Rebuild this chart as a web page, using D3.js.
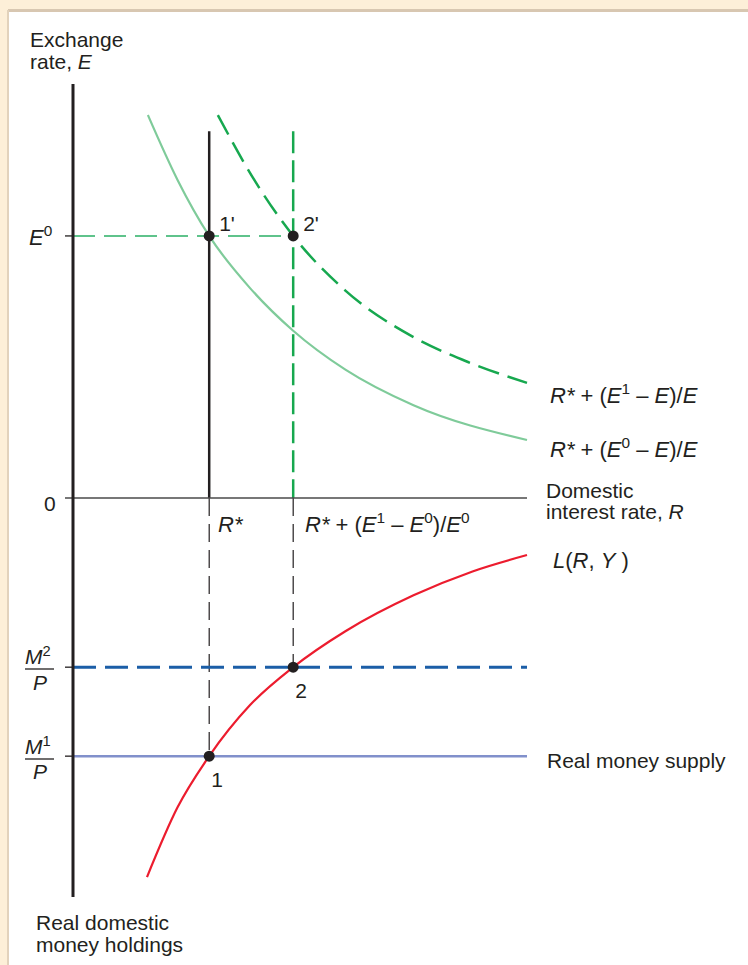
<!DOCTYPE html>
<html>
<head>
<meta charset="utf-8">
<script src="https://cdn.jsdelivr.net/npm/d3@7"></script>
<style>
  html, body { margin: 0; padding: 0; background: #fdefd8; }
  svg { display: block; font-family: "Liberation Sans", Arial, Helvetica, sans-serif; }
  text { fill: #231f20; }
</style>
</head>
<body>
<svg id="chart"></svg>
<script>
// Levels (R and E / M on 0..100 scales)
const rStar = 30;        // R*
const rNew = 48.5;       // R* + (E1 - E0)/E0
const e0 = 63.3;         // E0
const eTop = 88.6;       // top of the vertical R lines
const m1 = 64.7;         // M1/P
const m2 = 42.4;         // M2/P

// Expected return curves [R, E]
const returnE0 = [[16.5, 92.5], [23, 76.9], [30, 63.3], [39, 50.7], [48.5, 40.4],
  [60, 31.0], [75, 22.4], [100, 14.0]];
const returnE1 = [[31.9, 92.5], [40, 76.7], [48.5, 63.3], [60, 50.1], [75, 38.85],
  [87, 32.85], [100, 27.8]];

// Money demand L(R, Y) [R, M]
const demand = [[16.3, 95.0], [23, 77.6], [30, 64.7], [39, 51.9], [48.5, 42.4],
  [60, 33.4], [75, 24.4], [88, 18.4], [100, 14.3]];

// Equilibrium points
const upperPoints = [{r: rStar, e: e0, name: "1'"}, {r: rNew, e: e0, name: "2'"}];
const lowerPoints = [{r: rStar, m: m1, name: "1"}, {r: rNew, m: m2, name: "2"}];

const width = 748;
const height = 965;
const ink = "#231f20";

const svg = d3.select("#chart")
    .attr("width", width)
    .attr("height", height);

// Cream frame and white panel
svg.append("rect").attr("width", width).attr("height", height).attr("fill", "#fdefd8");
svg.append("rect").attr("x", 8).attr("y", 11).attr("width", width).attr("height", height)
    .attr("fill", "#fff");
svg.append("line").attr("x1", 8).attr("x2", width).attr("y1", 10.5).attr("y2", 10.5)
    .attr("stroke", "#d8c7b1").attr("stroke-width", 3);
svg.append("line").attr("x1", 8).attr("x2", 8).attr("y1", 10).attr("y2", height)
    .attr("stroke", "#e2d2bc").attr("stroke-width", 2);

// Scales
const x = d3.scaleLinear().domain([0, 100]).range([73, 527]);
const yE = d3.scaleLinear().domain([0, 100]).range([498, 84]);
const yM = d3.scaleLinear().domain([0, 100]).range([498, 897]);

const lineE = d3.line().x(d => x(d[0])).y(d => yE(d[1])).curve(d3.curveMonotoneX);
const lineM = d3.line().x(d => x(d[0])).y(d => yM(d[1])).curve(d3.curveMonotoneX);

// Upper panel
svg.append("path").attr("d", lineE(returnE0))
    .attr("fill", "none").attr("stroke", "#7fcb9a").attr("stroke-width", 2.2);

svg.append("line")
    .attr("x1", x(rStar)).attr("x2", x(rStar)).attr("y1", yE(eTop)).attr("y2", yE(0))
    .attr("stroke", ink).attr("stroke-width", 2.5);

svg.append("line")
    .attr("x1", x(rNew)).attr("x2", x(rNew)).attr("y1", yE(eTop)).attr("y2", yE(0))
    .attr("stroke", "#17a84f").attr("stroke-width", 2.5).attr("stroke-dasharray", "22,7");

svg.append("path").attr("d", lineE(returnE1))
    .attr("fill", "none").attr("stroke", "#17a84f").attr("stroke-width", 2.5)
    .attr("stroke-dasharray", "22,9");

svg.append("line")
    .attr("x1", x(0)).attr("x2", x(rNew)).attr("y1", yE(e0)).attr("y2", yE(e0))
    .attr("stroke", "#2bb065").attr("stroke-width", 1.6).attr("stroke-dasharray", "22,9");

// Lower panel
svg.append("line")
    .attr("x1", x(rStar)).attr("x2", x(rStar)).attr("y1", yM(0)).attr("y2", yM(m1))
    .attr("stroke", ink).attr("stroke-width", 1.2).attr("stroke-dasharray", "18,8");
svg.append("line")
    .attr("x1", x(rNew)).attr("x2", x(rNew)).attr("y1", yM(0)).attr("y2", yM(m2))
    .attr("stroke", ink).attr("stroke-width", 1.2).attr("stroke-dasharray", "18,8");

svg.append("line")
    .attr("x1", x(0)).attr("x2", x(100)).attr("y1", yM(m1)).attr("y2", yM(m1))
    .attr("stroke", "#8190cb").attr("stroke-width", 2.5);
svg.append("line")
    .attr("x1", x(0)).attr("x2", x(100)).attr("y1", yM(m2)).attr("y2", yM(m2))
    .attr("stroke", "#1b5ea7").attr("stroke-width", 3).attr("stroke-dasharray", "23,9");

svg.append("path").attr("d", lineM(demand))
    .attr("fill", "none").attr("stroke", "#ec1c2e").attr("stroke-width", 2.2);

// Axes
svg.append("line")
    .attr("x1", x(0) - 8).attr("x2", x(100)).attr("y1", yE(0)).attr("y2", yE(0))
    .attr("stroke", "#4a4a4a").attr("stroke-width", 1.6);
svg.append("line")
    .attr("x1", x(0)).attr("x2", x(0)).attr("y1", yE(100)).attr("y2", yM(100))
    .attr("stroke", ink).attr("stroke-width", 3);

// Ticks on vertical axis
const ticks = [yE(e0), yM(m2), yM(m1)];
svg.selectAll(".tick").data(ticks).enter().append("line")
    .attr("class", "tick")
    .attr("x1", x(0) - 8).attr("x2", x(0)).attr("y1", d => d).attr("y2", d => d)
    .attr("stroke", ink).attr("stroke-width", 1.3);

// Dots
svg.selectAll(".up").data(upperPoints).enter().append("circle")
    .attr("class", "up")
    .attr("cx", d => x(d.r)).attr("cy", d => yE(d.e)).attr("r", 5.5).attr("fill", ink);
svg.selectAll(".low").data(lowerPoints).enter().append("circle")
    .attr("class", "low")
    .attr("cx", d => x(d.r)).attr("cy", d => yM(d.m)).attr("r", 5.5).attr("fill", ink);

svg.selectAll(".uplabel").data(upperPoints).enter().append("text")
    .attr("class", "uplabel")
    .attr("x", d => x(d.r) + 10).attr("y", d => yE(d.e) - 5)
    .attr("font-size", 21).text(d => d.name);
svg.selectAll(".lowlabel").data(lowerPoints).enter().append("text")
    .attr("class", "lowlabel")
    .attr("x", d => x(d.r) + 2).attr("y", d => yM(d.m) + 31)
    .attr("font-size", 21).text(d => d.name);

// Text helper: parts = [[text, flags]] where flags may contain i (italic) and s (superscript)
function label(px, py, parts, size) {
  size = size || 21;
  const t = svg.append("text").attr("x", px).attr("y", py).attr("font-size", size);
  let raised = 0;
  parts.forEach(p => {
    const flags = p[1] || "";
    const s = t.append("tspan").text(p[0]);
    if (flags.includes("i")) s.attr("font-style", "italic");
    if (flags.includes("s")) {
      const up = size * 0.4;
      s.attr("font-size", size * 0.7).attr("dy", -up - raised);
      raised = up;
    } else if (raised) {
      s.attr("dy", raised);
      raised = 0;
    }
  });
  return t;
}

label(30, 47, [["Exchange"]]);
label(30, 69, [["rate, "], ["E", "i"]]);
label(29, 245, [["E", "i"], ["0", "s"]], 22);
label(44, 511, [["0"]]);

label(218, 532, [["R", "i"], ["*", "i"]], 22);
label(305, 532, [["R", "i"], ["*", "i"], [" + ("], ["E", "i"], ["1", "s"], [" – "], ["E", "i"], ["0", "s"], [")/"], ["E", "i"], ["0", "s"]], 22);

label(546, 498, [["Domestic"]]);
label(546, 519, [["interest rate, "], ["R", "i"]]);

label(550, 403, [["R", "i"], ["*", "i"], [" + ("], ["E", "i"], ["1", "s"], [" – "], ["E", "i"], [")/"], ["E", "i"]], 22);
label(550, 457, [["R", "i"], ["*", "i"], [" + ("], ["E", "i"], ["0", "s"], [" – "], ["E", "i"], [")/"], ["E", "i"]], 22);

label(553, 568, [["L", "i"], ["("], ["R", "i"], [", "], ["Y", "i"], [" )"]], 22);
label(547, 768, [["Real money supply"]]);

label(36, 930, [["Real domestic"]]);
label(36, 952, [["money holdings"]]);

// Fractions M/P
label(25, 664, [["M", "i"], ["2", "s"]], 21);
label(33, 690, [["P", "i"]], 21);
label(25, 754, [["M", "i"], ["1", "s"]], 21);
label(33, 779, [["P", "i"]], 21);
[669, 759].forEach(yy => {
  svg.append("line").attr("x1", 25).attr("x2", 54).attr("y1", yy).attr("y2", yy)
      .attr("stroke", ink).attr("stroke-width", 1.3);
});
</script>
</body>
</html>
